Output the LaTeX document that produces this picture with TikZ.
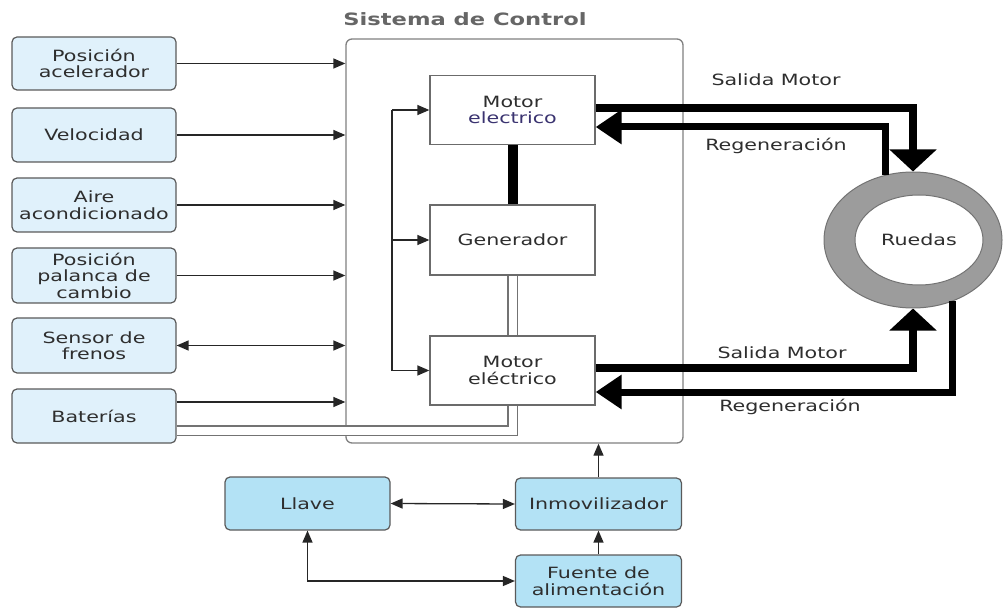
\documentclass[tikz,border=0pt]{standalone}
\usepackage{fontspec}
\setmainfont{DejaVu Sans}[FakeStretch=1.33]
\usetikzlibrary{arrows.meta,shapes.geometric}
\definecolor{txt}{HTML}{2E2E2E}
\definecolor{boxline}{HTML}{5A5A5A}
\definecolor{lightblue}{HTML}{E0F1FB}
\definecolor{midblue}{HTML}{B3E2F5}
\definecolor{ctrlline}{HTML}{808080}
\definecolor{ringgray}{HTML}{9C9C9C}
\definecolor{elblue}{HTML}{3A3370}
\newcommand{\bodyfont}{\fontsize{15.5}{16.5}\selectfont}
\begin{document}
\begin{tikzpicture}[x=1pt,y=-1pt,
  inbox/.style={draw=boxline, fill=lightblue, rounded corners=5pt, line width=1.2pt,
    minimum width=164pt, align=center, font=\bodyfont, text=txt, inner sep=0pt},
  keybox/.style={inbox, fill=midblue, minimum width=166pt, minimum height=52pt},
  ctrlbox/.style={draw=ctrlline, rounded corners=6pt, line width=1.3pt,
    minimum width=337pt, minimum height=404pt, inner sep=0pt},
  innerbox/.style={draw=boxline!90, fill=white, line width=1.3pt, minimum width=165pt,
    minimum height=69pt, align=center, font=\bodyfont, text=txt, inner sep=0pt},
  arr/.style={line width=1.3pt, draw=black!85, -{Triangle[length=12pt,width=10pt]}},
  darr/.style={line width=1.3pt, draw=black!85, {Triangle[length=12pt,width=10pt]}-{Triangle[length=12pt,width=10pt]}},
  power/.style={line width=8pt, -{Triangle[length=22pt,width=46pt]}},
  regen/.style={line width=7pt, -{Triangle[length=26pt,width=33pt]}},
  lbl/.style={font=\bodyfont, text=txt, inner sep=0pt}
]
\useasboundingbox (0,0) rectangle (1003,609);

% left input boxes
\node[inbox, minimum height=53pt] (p1) at (94,63.5) {Posición\\acelerador};
\node[inbox, minimum height=54pt] (p2) at (94,135) {Velocidad};
\node[inbox, minimum height=54pt] (p3) at (94,205) {Aire\\acondicionado};
\node[inbox, minimum height=55pt] (p4) at (94,275.5) {Posición\\palanca de\\cambio};
\node[inbox, minimum height=55pt] (p5) at (94,345.5) {Sensor de\\frenos};
\node[inbox, minimum height=54pt] (p6) at (94,416) {Baterías};

% control system
\node[ctrlbox] (ctrl) at (514.5,241) {};
\node[font=\fontsize{17}{19}\selectfont\bfseries, text=black!60, inner sep=0pt] (title) at (465,19) {Sistema de Control};

\node[innerbox] (m1) at (512.5,110) {\fontsize{15.5}{19.5}\selectfont Motor\\\textcolor{elblue}{electrico}};
\node[innerbox, minimum height=70pt] (gen) at (512.5,240) {Generador};

% battery double line (behind lower motor)
\draw[double=white, double distance=8pt, line width=1.2pt, draw=black!55]
  ([yshift=-14.5pt]p6.east) -| (gen.south);

\node[innerbox] (m2) at (512.5,370.5) {\fontsize{15.5}{17.5}\selectfont Motor\\eléctrico};

% inputs to control
\draw[arr] (p1.east) -- (p1.east -| ctrl.west);
\draw[arr] (p2.east) -- (p2.east -| ctrl.west);
\draw[arr] (p3.east) -- (p3.east -| ctrl.west);
\draw[arr] (p4.east) -- (p4.east -| ctrl.west);
\draw[darr] (p5.east) -- (p5.east -| ctrl.west);
\draw[arr] ([yshift=14pt]p6.east) -- ([yshift=14pt]p6.east -| ctrl.west);

% internal bus
\coordinate (busT) at (392,110);
\coordinate (busB) at (392,370.5);
\draw[line width=1.3pt, draw=black!85] (busT) -- (busB);
\draw[arr] (busT) -- (m1.west);
\draw[arr] (busT |- gen.west) -- (gen.west);
\draw[arr] (busB) -- (m2.west);

% motor - generator shaft
\draw[line width=10pt] (m1.south) -- (gen.north);

% wheel
\node[ellipse, draw=black!55, fill=ringgray, line width=1pt, minimum width=178pt, minimum height=136pt, inner sep=0pt] (wheel) at (913,240) {};
\node[ellipse, draw=black!55, fill=white, line width=1pt, minimum width=128pt, minimum height=90pt, font=\bodyfont, text=txt, inner sep=0pt] (rued) at (919,240) {Ruedas};

% power and regeneration
\draw[power] ([yshift=2pt]m1.east) -| (wheel.north);
\draw[regen] (wheel.113) |- ([yshift=-17pt]m1.east);
\draw[power] ([yshift=2.5pt]m2.east) -| (wheel.south);
\draw[regen] (wheel.-57) |- ([yshift=-21.5pt]m2.east);

\node[lbl] (s1) at (776,80) {Salida Motor};
\node[lbl] (r1) at (776,146) {Regeneración};
\node[lbl] (s2) at (782,353) {Salida Motor};
\node[lbl] (r2) at (790,407) {Regeneración};

% bottom
\node[keybox, minimum width=165pt, minimum height=53pt] (llave) at (307.5,503.5) {Llave};
\node[keybox] (inmov) at (598.5,504) {Inmovilizador};
\node[keybox] (fuente) at (598.5,581) {Fuente de\\alimentación};

\draw[darr] (llave.east) -- (inmov.west);
\draw[arr] (inmov.north) -- (inmov.north |- ctrl.south);
\draw[arr] (fuente.north) -- (inmov.south);
\draw[darr] (llave.south) |- (fuente.west);
\end{tikzpicture}
\end{document}
